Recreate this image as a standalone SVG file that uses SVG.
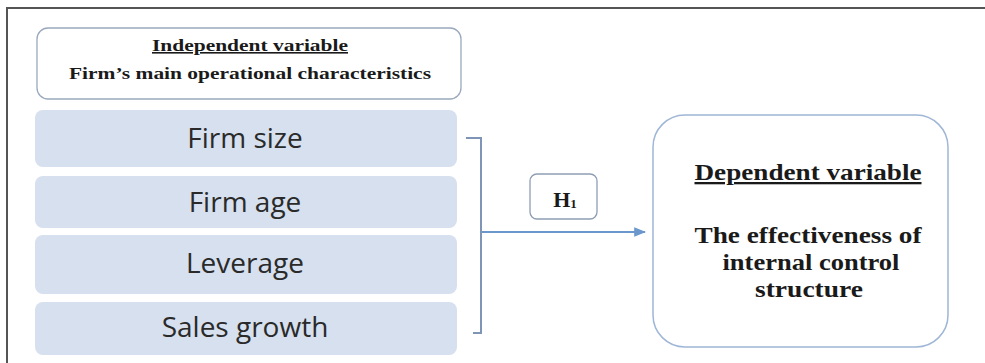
<svg xmlns="http://www.w3.org/2000/svg" width="985" height="363" viewBox="0 0 985 363">
<defs>
<style>
.frame{stroke:#555;stroke-width:2;fill:none}
.box{fill:#d6e0ee;stroke:none}
.lbl{font-family:"Open Sans","Noto Sans",sans-serif;font-size:28px;fill:#2a2a2a;text-anchor:middle}
.ser{font-family:"Liberation Serif","Times New Roman",serif;font-weight:bold;fill:#1a1a1a;text-anchor:middle}
.conn{stroke:#7e95b8;stroke-width:2;fill:none}
.arr{stroke:#6a97cc;stroke-width:2;fill:none}
</style>
<marker id="ah" viewBox="0 0 10 10" refX="9" refY="5" markerWidth="6" markerHeight="6" orient="auto" markerUnits="strokeWidth">
<path d="M0,1 L10,5 L0,9 z" fill="#6a97cc"/>
</marker>
</defs>
<rect width="985" height="363" fill="#fff"/>
<path class="frame" d="M7,363 V8 H985"/>
<g id="independent">
<rect x="37" y="28" width="424" height="71" rx="11" fill="#fff" stroke="#9aa9bd" stroke-width="1.3"/>
<text class="ser" x="250" y="51" font-size="16" text-decoration="underline" textLength="196" lengthAdjust="spacingAndGlyphs">Independent variable</text>
<text class="ser" x="250" y="79" font-size="17" textLength="362" lengthAdjust="spacingAndGlyphs">Firm’s main operational characteristics</text>
</g>
<g id="firm-size">
<rect class="box" x="35" y="110" width="422" height="57" rx="8"/>
<text class="lbl" x="245" y="148">Firm size</text>
</g>
<g id="firm-age">
<rect class="box" x="35" y="176" width="422" height="52" rx="8"/>
<text class="lbl" x="245" y="212">Firm age</text>
</g>
<g id="leverage">
<rect class="box" x="35" y="235" width="422" height="59" rx="8"/>
<text class="lbl" x="245" y="273">Leverage</text>
</g>
<g id="sales-growth">
<rect class="box" x="35" y="302" width="422" height="53" rx="8"/>
<text class="lbl" x="245" y="337">Sales growth</text>
</g>
<g id="h1">
<rect x="530" y="174" width="67" height="45" rx="7" fill="#fff" stroke="#8e9db3" stroke-width="1.3"/>
<text class="ser" x="565" y="207" font-size="22">H<tspan font-size="13" dy="1">1</tspan></text>
</g>
<g id="dependent">
<rect x="653" y="115" width="295" height="232" rx="32" fill="#fff" stroke="#9fb6d6" stroke-width="1.5"/>
<text class="ser" x="808" y="180" font-size="23" text-decoration="underline" textLength="227" lengthAdjust="spacingAndGlyphs">Dependent variable</text>
<text class="ser" x="808" y="243" font-size="23" textLength="227" lengthAdjust="spacingAndGlyphs">The effectiveness of</text>
<text class="ser" x="811" y="270" font-size="23" textLength="177" lengthAdjust="spacingAndGlyphs">internal control</text>
<text class="ser" x="809" y="297" font-size="23" textLength="108" lengthAdjust="spacingAndGlyphs">structure</text>
</g>
<g id="connectors">
<path class="conn" d="M466,138 H481 V333 H473"/>
<path class="arr" d="M482,232 H645" marker-end="url(#ah)"/>
</g>
</svg>
